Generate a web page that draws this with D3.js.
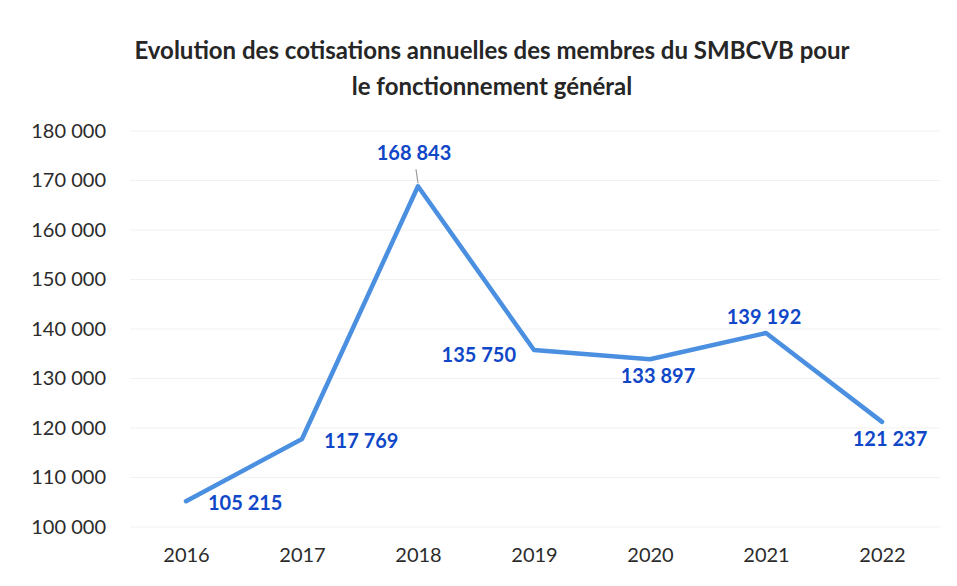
<!DOCTYPE html>
<html>
<head>
<meta charset="utf-8">
<script src="https://cdn.jsdelivr.net/npm/d3@7"></script>
<style>
  body { margin: 0; background: #fff; }
  svg { display: block; font-family: Lato, "Open Sans", sans-serif; }
</style>
</head>
<body>
<div id="chart"></div>
<script>
const years = ['2016', '2017', '2018', '2019', '2020', '2021', '2022']
const cotisations = [105215, 117769, 168843, 135750, 133897, 139192, 121237]
const yTicks = [100000, 110000, 120000, 130000, 140000, 150000, 160000, 170000, 180000]
const titleLines = ['Evolution des cotisations annuelles des membres du SMBCVB pour', 'le fonctionnement général']

// where each value label sits relative to its point
const labelSide = ['right', 'right', 'peak', 'left', 'below', 'above', 'below']

const width = 957
const height = 586

const fr = d3.formatLocale({ decimal: ',', thousands: ' ', grouping: [3], currency: ['', ' €'] })
const fmt = fr.format(',')

const svg = d3.select('#chart')
  .append('svg')
  .attr('width', width)
  .attr('height', height)

const x = d3.scalePoint()
  .domain(years)
  .range([186, 882])

const y = d3.scaleLinear()
  .domain([100000, 180000])
  .range([527, 131])

// Title
svg.append('g')
  .selectAll('text')
  .data(titleLines)
  .join('text')
  .attr('x', 492)
  .attr('y', (d, i) => 59 + i * 36)
  .attr('text-anchor', 'middle')
  .attr('font-size', 24)
  .attr('font-weight', 700)
  .attr('fill', '#262626')
  .text(d => d)

// Gridlines
svg.append('g')
  .selectAll('line')
  .data(yTicks)
  .join('line')
  .attr('x1', 130)
  .attr('x2', 940)
  .attr('y1', d => y(d))
  .attr('y2', d => y(d))
  .attr('stroke', '#f1f1f1')
  .attr('stroke-width', 1)

// Y axis
const yAxis = svg.append('g')
  .attr('transform', 'translate(106,0)')
  .call(d3.axisLeft(y).tickValues(yTicks).tickFormat(fmt).tickSize(0).tickPadding(0))
yAxis.select('.domain').remove()
yAxis.selectAll('text')
  .attr('font-size', 20)
  .attr('font-family', 'Lato, sans-serif')
  .attr('fill', '#2b2b2b')

// X axis
const xAxis = svg.append('g')
  .attr('transform', 'translate(0,548)')
  .call(d3.axisBottom(x).tickSize(0).tickPadding(0))
xAxis.select('.domain').remove()
xAxis.selectAll('text')
  .attr('font-size', 20)
  .attr('font-family', 'Lato, sans-serif')
  .attr('fill', '#2b2b2b')

const points = years.map((yr, i) => ({ year: yr, value: cotisations[i], side: labelSide[i] }))

// Line
const line = d3.line()
  .x(d => x(d.year))
  .y(d => y(d.value))

svg.append('path')
  .datum(points)
  .attr('d', line)
  .attr('fill', 'none')
  .attr('stroke', '#4a8fe0')
  .attr('stroke-width', 4.5)
  .attr('stroke-linejoin', 'round')
  .attr('stroke-linecap', 'round')

// Small leader for the peak label
const peak = points[2]
svg.append('line')
  .attr('x1', x(peak.year) - 2)
  .attr('y1', y(peak.value) - 17)
  .attr('x2', x(peak.year))
  .attr('y2', y(peak.value) - 3)
  .attr('stroke', '#9a9a9a')
  .attr('stroke-width', 1.2)

// Value labels
const offsets = {
  right: { dx: 22, dy: 2, anchor: 'start' },
  left: { dx: -18, dy: 5, anchor: 'end' },
  peak: { dx: -4, dy: -33, anchor: 'middle' },
  above: { dx: -2, dy: -16, anchor: 'middle' },
  below: { dx: 8, dy: 17, anchor: 'middle' }
}

svg.append('g')
  .selectAll('text')
  .data(points)
  .join('text')
  .attr('x', d => x(d.year) + offsets[d.side].dx)
  .attr('y', d => y(d.value) + offsets[d.side].dy)
  .attr('dy', '0.35em')
  .attr('text-anchor', d => offsets[d.side].anchor)
  .attr('font-size', 20)
  .attr('font-weight', 700)
  .attr('fill', '#0f47c8')
  .text(d => fmt(d.value))
</script>
</body>
</html>
